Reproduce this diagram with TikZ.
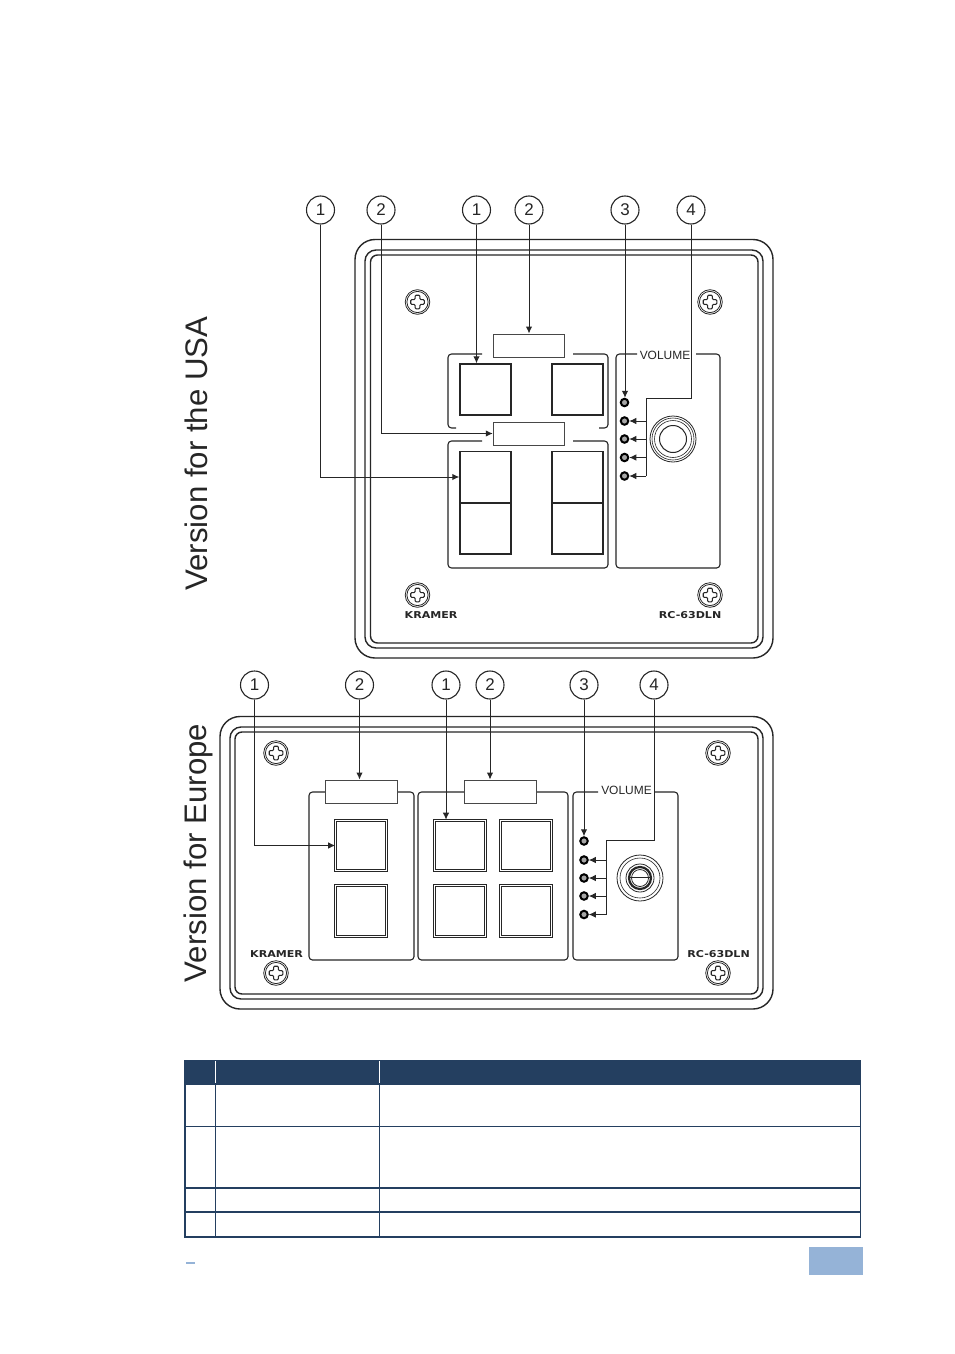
\documentclass[tikz,border=0pt]{standalone}
\usepackage{fontspec}
\setmainfont{Liberation Sans}
\newfontfamily\logofont{DejaVu Sans}
\usetikzlibrary{arrows.meta}
\definecolor{ink}{HTML}{262626}
\definecolor{tabhead}{HTML}{243F60}
\definecolor{footblue}{HTML}{95B3D7}
\newcommand{\logotext}[1]{\scalebox{1.17}[1]{#1}}
\tikzset{
  callout/.style={circle,draw=ink,line width=1.1bp,fill=white,minimum size=28bp,inner sep=0pt,font=\fontsize{17}{17}\selectfont,text=ink},
  wire/.style={draw=ink,line width=1bp},
  arrowwire/.style={wire,-{Latex[length=7bp,width=6.5bp]}},
  panel/.style={draw=ink,line width=1.1bp,rounded corners=3.5bp},
  plate/.style={draw=ink,line width=1.4bp},
  labelbox/.style={rectangle,draw=ink!85,line width=1bp,fill=white,minimum width=71.5bp,minimum height=23bp,inner sep=0pt},
  usbtn/.style={rectangle,draw=ink,line width=1.4bp,minimum width=51bp,minimum height=51bp,inner sep=0pt},
  eubtn/.style={rectangle,draw=ink,line width=1.1bp,double=white,double distance=0.6bp,minimum width=50.5bp,minimum height=50.5bp,inner sep=0pt},
  led/.style={circle,draw=black,line width=2bp,fill=gray!70,minimum size=7.5bp,inner sep=0pt},
  volume/.style={font=\fontsize{12}{12}\selectfont,text=ink,inner sep=0pt},
  logo/.style={font=\logofont\bfseries\fontsize{9.5}{9.5}\selectfont,text=ink,inner sep=0pt},
  heading/.style={rotate=90,font=\fontsize{31.3}{31.3}\selectfont,text=ink,inner sep=0pt},
  screw/.pic={
    \draw[ink,line width=0.8bp] (0,0) circle[radius=12.3];
    \draw[ink,line width=0.8bp] (0,0) circle[radius=10.6];
    \draw[ink,line width=1.1bp,rounded corners=1bp] (-2.4,-6.8) -- (2.4,-6.8) -- (2.4,-2.4) -- (6.8,-2.4) -- (6.8,2.4) -- (2.4,2.4) -- (2.4,6.8) -- (-2.4,6.8) -- (-2.4,2.4) -- (-6.8,2.4) -- (-6.8,-2.4) -- (-2.4,-2.4) -- cycle;
  }
}
\begin{document}
\begin{tikzpicture}[x=1bp,y=-1bp]
\useasboundingbox (0,0) rectangle (954,1354);
\fill[white] (0,0) rectangle (954,1354);

% headings
\node[heading] (hus) at (196.5,453.5) {Version for the USA};
\node[heading] (heu) at (198.5,853) {Version for Europe};

% ===== USA plate =====
\draw[plate,rounded corners=20bp] (355,239.5) rectangle (773,658);
\draw[plate,rounded corners=11bp] (365,250) rectangle (763,648);
\draw[plate,rounded corners=7bp] (370.5,255) rectangle (758,643);
\foreach \p/\q in {417.5/302,710/302,417.5/595,710/595} \pic at (\p,\q) {screw};
\node[logo,anchor=west] (uskr) at (404.5,615.5) {\logotext{KRAMER}};
\node[logo,anchor=east] (usrc) at (721.5,615.5) {\logotext{RC-63DLN}};

\draw[panel] (482,354) -| (448,428) -- (456,428);
\draw[panel] (573,354) -| (608,428) -- (599,428);
\draw[panel] (482,441) -| (448,568) -| (608,441) -- (573,441);
\draw[panel] (637,354) -| (616,568) -| (720,354) -- (696,354);
\node[volume] (usvol) at (665,355) {VOLUME};

\node[labelbox] (usl1) at (529,345.5) {};
\node[labelbox] (usl2) at (529,433.5) {};
\node[usbtn] (usb1) at (485.5,389.5) {};
\node[usbtn] (usb2) at (577.5,389.5) {};
\node[usbtn] (usb3) at (485.5,477) {};
\node[usbtn] (usb4) at (577.5,477) {};
\node[usbtn] (usb5) at (485.5,528.5) {};
\node[usbtn] (usb6) at (577.5,528.5) {};

\node[led] (usl a) at (624.5,402.5) {};
\node[led] (usl b) at (624.5,421) {};
\node[led] (usl c) at (624.5,439) {};
\node[led] (usl d) at (624.5,457.5) {};
\node[led] (usl e) at (624.5,476) {};

\draw[ink,line width=0.8bp] (673,439) circle[radius=23];
\draw[ink,line width=0.6bp] (673,439) circle[radius=21];
\draw[ink,line width=0.6bp] (673,439) circle[radius=18.5];
\draw[ink,line width=1bp] (673,439) circle[radius=13.5];

\node[callout] (usc1) at (320.5,210) {1};
\node[callout] (usc2) at (381,210) {2};
\node[callout] (usc3) at (476.5,210) {1};
\node[callout] (usc4) at (529,210) {2};
\node[callout] (usc5) at (625,210) {3};
\node[callout] (usc6) at (691,210) {4};

\draw[arrowwire] (usc1.south) |- (usb3.west);
\draw[arrowwire] (usc2.south) |- (usl2.west);
\draw[arrowwire] (usc3.south) -- (usc3.south |- usb1.north);
\draw[arrowwire] (usc4.south) -- (usl1.north);
\draw[arrowwire] (usc5.south) -- (usc5.south |- usl a.north);
\coordinate (usbus) at (646,398.5);
\draw[wire] (usc6.south) |- (usbus) -- (usbus |- usl e.east);
\foreach \n in {b,c,d,e} \draw[arrowwire] (usbus |- usl \n.east) -- (usl \n.east);

% ===== Europe plate =====
\draw[plate,rounded corners=20bp] (220,716.5) rectangle (773,1009);
\draw[plate,rounded corners=11bp] (230,727) rectangle (763,999);
\draw[plate,rounded corners=7bp] (235,732) rectangle (758,994);
\foreach \p/\q in {276/753,718/753,276/973,718/973} \pic at (\p,\q) {screw};
\node[logo,anchor=west] (eukr) at (250,954) {\logotext{KRAMER}};
\node[logo,anchor=east] (eurc) at (750,954) {\logotext{RC-63DLN}};

\draw[panel] (326,792) -| (309,960) -| (414,792) -- (397,792);
\draw[panel] (465,792) -| (418,960) -| (568,792) -- (536,792);
\draw[panel] (598,792) -| (573,960) -| (678,792) -- (655,792);
\node[volume] (euvol) at (626.5,790.5) {VOLUME};

\node[labelbox] (eul1) at (361.5,791.5) {};
\node[labelbox] (eul2) at (500.5,791.5) {};
\node[eubtn] (eub1) at (361,845.5) {};
\node[eubtn] (eub2) at (361,911) {};
\node[eubtn] (eub3) at (460,845.5) {};
\node[eubtn] (eub4) at (526,845.5) {};
\node[eubtn] (eub5) at (460,911) {};
\node[eubtn] (eub6) at (526,911) {};

\node[led] (eue a) at (584,841) {};
\node[led] (eue b) at (584,860) {};
\node[led] (eue c) at (584,878) {};
\node[led] (eue d) at (584,896) {};
\node[led] (eue e) at (584,914.5) {};

\draw[ink,line width=0.8bp] (640,878) circle[radius=23];
\draw[ink,line width=0.6bp] (640,878) circle[radius=20];
\draw[ink,line width=0.8bp] (640,878) circle[radius=14];
\draw[ink,line width=2.2bp] (640,878) circle[radius=11];
\draw[ink,line width=0.8bp] (640,878) circle[radius=8.5];
\draw[ink,line width=1bp] (629,877) -- (651,877);

\node[callout] (euc1) at (254.5,685) {1};
\node[callout] (euc2) at (359.5,685) {2};
\node[callout] (euc3) at (446,685) {1};
\node[callout] (euc4) at (490,685) {2};
\node[callout] (euc5) at (584,685) {3};
\node[callout] (euc6) at (654,685) {4};

\draw[arrowwire] (euc1.south) |- (eub1.west);
\draw[arrowwire] (euc2.south) -- (euc2.south |- eul1.north);
\draw[arrowwire] (euc3.south) -- (euc3.south |- eub3.north);
\draw[arrowwire] (euc4.south) -- (euc4.south |- eul2.north);
\draw[arrowwire] (euc5.south) -- (euc5.south |- eue a.north);
\coordinate (eubus) at (606,840);
\draw[wire] (euc6.south) |- (eubus) -- (eubus |- eue e.east);
\foreach \n in {b,c,d,e} \draw[arrowwire] (eubus |- eue \n.east) -- (eue \n.east);

% ===== Table =====
\fill[tabhead] (184,1060) rectangle (861,1085);
\draw[white,line width=0.8bp] (215.5,1061) -- (215.5,1083);
\draw[white,line width=0.8bp] (379,1061) -- (379,1083);
\draw[tabhead,line width=1bp] (215.5,1085) -- (215.5,1237);
\draw[tabhead,line width=0.8bp] (379,1085) -- (379,1237);
\draw[tabhead,line width=1.6bp] (185,1085) -- (185,1237);
\draw[tabhead,line width=1bp] (860.5,1085) -- (860.5,1237);
\draw[tabhead,line width=1bp] (184,1126.5) -- (861,1126.5);
\draw[tabhead,line width=2bp] (184,1188) -- (861,1188);
\draw[tabhead,line width=2bp] (184,1212) -- (861,1212);
\draw[tabhead,line width=2bp] (184,1237) -- (861,1237);

% ===== Footer =====
\fill[footblue] (186,1261.5) rectangle (195,1263.5);
\fill[footblue] (809,1247) rectangle (863,1275);
\end{tikzpicture}
\end{document}
